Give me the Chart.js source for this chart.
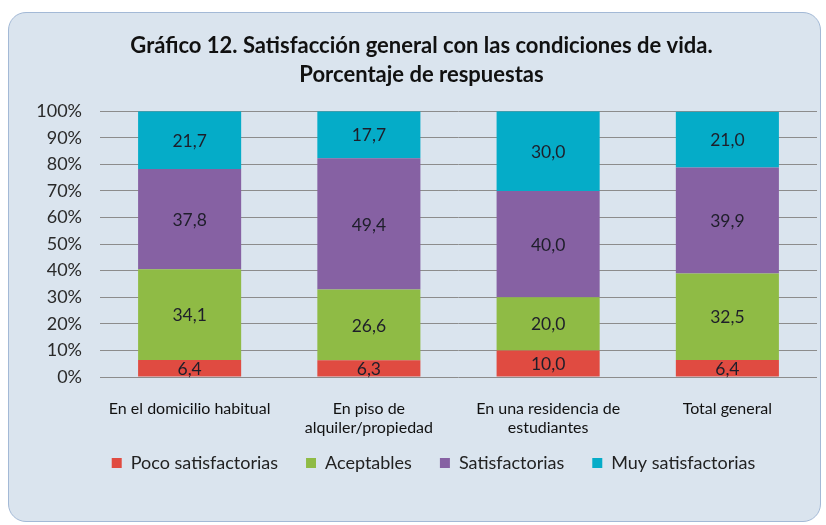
<!DOCTYPE html>
<html>
<head>
<meta charset="utf-8">
<script src="https://cdn.jsdelivr.net/npm/chart.js@4"></script>
<style>
  body { margin: 0; background: #fff; }
  #panel {
    position: absolute; left: 8px; top: 12px; width: 813px; height: 510px;
    background: #dae4ee; border: 1.5px solid #a3b9d6; border-radius: 18px;
    box-sizing: border-box;
  }
  #wrap { position: absolute; left: 0; top: 0; width: 826px; height: 525px; }
</style>
</head>
<body>
<div id="panel"></div>
<div id="wrap"><canvas id="chart" width="826" height="525"></canvas></div>
<script>
// categories and series (percent of responses)
const categories = [
  'En el domicilio habitual',
  ['En piso de', 'alquiler/propiedad'],
  ['En una residencia de', 'estudiantes'],
  'Total general'
];
const pocoSatisfactorias = [6.4, 6.3, 10.0, 6.4];
const aceptables = [34.1, 26.6, 20.0, 32.5];
const satisfactorias = [37.8, 49.4, 40.0, 39.9];
const muySatisfactorias = [21.7, 17.7, 30.0, 21.0];

const fontFamily = 'Lato, "Open Sans", sans-serif';

// writes the value in the middle of every bar segment
const valueLabels = {
  id: 'valueLabels',
  afterDatasetsDraw(chart) {
    const ctx = chart.ctx;
    ctx.save();
    ctx.font = '17.5px ' + fontFamily;
    ctx.fillStyle = '#1e1e2a';
    ctx.textAlign = 'center';
    ctx.textBaseline = 'middle';
    chart.data.datasets.forEach((ds, i) => {
      chart.getDatasetMeta(i).data.forEach((bar, j) => {
        const p = bar.getProps(['x', 'y', 'base'], true);
        ctx.fillText(ds.data[j].toFixed(1).replace('.', ','), p.x, (p.y + p.base) / 2 + 1);
      });
    });
    ctx.restore();
  }
};

// legend sits a little right of the title centre and closer to the axis labels
const legendShift = {
  id: 'legendShift',
  afterLayout(chart) {
    const lg = chart.legend;
    lg.left += 12;
    lg.right += 12;
    lg.top -= 13;
    lg.bottom -= 13;
  }
};

const mk = (label, data, color) => ({
  label: label,
  data: data,
  backgroundColor: color,
  borderWidth: 0,
  categoryPercentage: 1,
  barPercentage: 0.575
});

new Chart(document.getElementById('chart'), {
  type: 'bar',
  data: {
    labels: categories,
    datasets: [
      mk('Poco satisfactorias', pocoSatisfactorias, '#e04b41'),
      mk('Aceptables', aceptables, '#8fbb45'),
      mk('Satisfactorias', satisfactorias, '#8661a3'),
      mk('Muy satisfactorias', muySatisfactorias, '#05acc8')
    ]
  },
  options: {
    responsive: false,
    animation: false,
    layout: { padding: { left: 26, right: 9, top: 0, bottom: 30 } },
    plugins: {
      title: {
        display: true,
        text: ['Gráfico 12. Satisfacción general con las condiciones de vida.', 'Porcentaje de respuestas'],
        color: '#111',
        font: { family: fontFamily, size: 22, weight: 'bold', lineHeight: 1.3 },
        padding: { top: 32, bottom: 22 }
      },
      legend: {
        position: 'bottom',
        labels: {
          color: '#222',
          font: { family: fontFamily, size: 18 },
          boxWidth: 10,
          boxHeight: 10,
          padding: 28
        }
      },
      tooltip: { enabled: false }
    },
    scales: {
      x: {
        stacked: true,
        grid: { display: false, drawTicks: false },
        border: { display: false },
        ticks: {
          color: '#111',
          font: { family: fontFamily, size: 16 },
          padding: 22,
          maxRotation: 0
        },
        afterFit: s => { s.height = 62; }
      },
      y: {
        stacked: true,
        min: 0,
        max: 100,
        grid: { color: '#8c8c8c', lineWidth: 1, drawTicks: false },
        border: { display: false },
        ticks: {
          stepSize: 10,
          color: '#2a2a2a',
          font: { family: fontFamily, size: 18 },
          padding: 18,
          callback: v => v + '%'
        },
        afterFit: s => { s.width = 74; }
      }
    }
  },
  plugins: [valueLabels, legendShift]
});
</script>
</body>
</html>
